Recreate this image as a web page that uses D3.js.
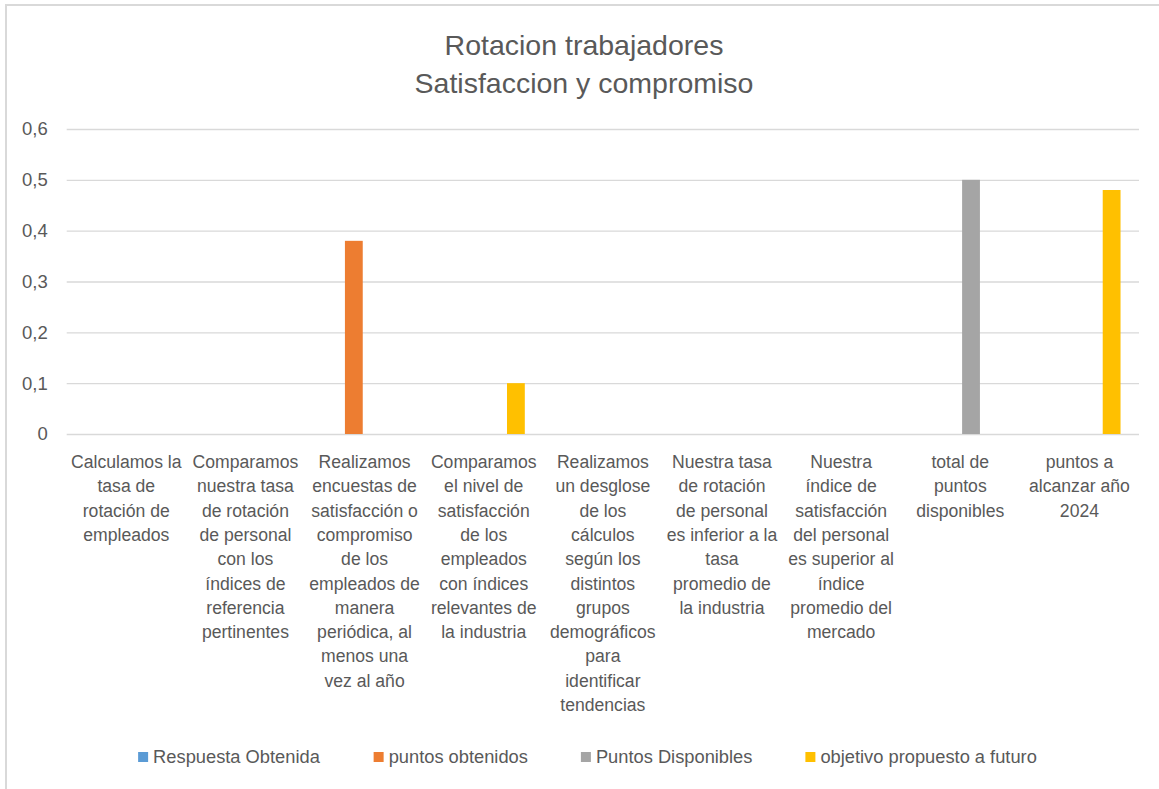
<!DOCTYPE html>
<html>
<head>
<meta charset="utf-8">
<script src="https://cdn.jsdelivr.net/npm/d3@7"></script>
<style>
  body { margin: 0; background: #fff; }
  svg { display: block; font-family: "Liberation Sans", Arial, sans-serif; }
</style>
</head>
<body>
<svg id="chart" width="1159" height="789"></svg>
<script>
// categories, one label line per \n
const categories = [
  "Calculamos la\ntasa de\nrotación de\nempleados",
  "Comparamos\nnuestra tasa\nde rotación\nde personal\ncon los\níndices de\nreferencia\npertinentes",
  "Realizamos\nencuestas de\nsatisfacción o\ncompromiso\nde los\nempleados de\nmanera\nperiódica, al\nmenos una\nvez al año",
  "Comparamos\nel nivel de\nsatisfacción\nde los\nempleados\ncon índices\nrelevantes de\nla industria",
  "Realizamos\nun desglose\nde los\ncálculos\nsegún los\ndistintos\ngrupos\ndemográficos\npara\nidentificar\ntendencias",
  "Nuestra tasa\nde rotación\nde personal\nes inferior a la\ntasa\npromedio de\nla industria",
  "Nuestra\níndice de\nsatisfacción\ndel personal\nes superior al\níndice\npromedio del\nmercado",
  "total de\npuntos\ndisponibles",
  "puntos a\nalcanzar año\n2024"
];

const seriesNames = ["Respuesta Obtenida", "puntos obtenidos", "Puntos Disponibles", "objetivo propuesto a futuro"];
const seriesColors = ["#5B9BD5", "#ED7D31", "#A5A5A5", "#FFC000"];

const respuestaObtenida = [0, 0, 0, 0, 0, 0, 0, 0, 0];
const puntosObtenidos   = [0, 0, 0.38, 0, 0, 0, 0, 0, 0];
const puntosDisponibles = [0, 0, 0, 0, 0, 0, 0, 0.5, 0];
const objetivoFuturo    = [0, 0, 0, 0.1, 0, 0, 0, 0, 0.48];

const yTicks = [0, 0.1, 0.2, 0.3, 0.4, 0.5, 0.6];
const titleLines = ["Rotacion trabajadores", "Satisfaccion y compromiso"];

const allSeries = [respuestaObtenida, puntosObtenidos, puntosDisponibles, objetivoFuturo];
const textColor = "#595959";

const svg = d3.select("#chart");

// chart frame
svg.append("rect")
  .attr("x", 6).attr("y", 5)
  .attr("width", 1170).attr("height", 800)
  .attr("fill", "none")
  .attr("stroke", "#D9D9D9")
  .attr("stroke-width", 2);

const plotLeft = 66.7, plotRight = 1139, plotTop = 129, plotBottom = 434;

const x0 = d3.scaleBand()
  .domain(d3.range(categories.length))
  .range([plotLeft, plotRight])
  .paddingInner(0.31)
  .paddingOuter(0.155);

const x1 = d3.scaleBand()
  .domain(d3.range(seriesNames.length))
  .range([0, x0.bandwidth()])
  .paddingInner(0.17);

const y = d3.scaleLinear().domain([0, 0.6]).range([plotBottom, plotTop]);

// gridlines + y labels
const yAxis = svg.append("g")
  .attr("transform", `translate(${plotLeft},0)`)
  .call(d3.axisLeft(y)
    .tickValues(yTicks)
    .tickSize(-(plotRight - plotLeft))
    .tickPadding(19)
    .tickFormat(d => d === 0 ? "0" : d3.format(".1f")(d).replace(".", ",")));
yAxis.select(".domain").remove();
yAxis.selectAll(".tick line").attr("stroke", "#D9D9D9").attr("stroke-width", 1.3);
yAxis.selectAll(".tick text")
  .attr("fill", textColor)
  .attr("font-size", 18.5)
  .attr("font-family", "Liberation Sans, Arial, sans-serif");

// bars
const groups = svg.append("g").selectAll("g")
  .data(categories.map((c, i) => i))
  .join("g")
  .attr("transform", i => `translate(${x0(i)},0)`);

groups.selectAll("rect")
  .data(i => allSeries.map((s, k) => ({k, v: s[i]})))
  .join("rect")
  .attr("x", d => x1(d.k))
  .attr("width", x1.bandwidth())
  .attr("y", d => y(d.v))
  .attr("height", d => y(0) - y(d.v))
  .attr("fill", d => seriesColors[d.k]);

// x axis labels (multi-line)
const xAxis = svg.append("g")
  .attr("transform", `translate(0,${plotBottom})`)
  .call(d3.axisBottom(x0).tickSize(0).tickFormat(""));
xAxis.select(".domain").remove();
xAxis.selectAll(".tick").each(function(i) {
  const t = d3.select(this).append("text")
    .attr("fill", textColor)
    .attr("font-size", 17.6)
    .attr("text-anchor", "middle");
  categories[i].split("\n").forEach((line, j) => {
    t.append("tspan").attr("x", 0).attr("y", 34 + j * 24.3).text(line);
  });
});

// title
svg.append("text")
  .attr("text-anchor", "middle")
  .attr("fill", textColor)
  .attr("font-size", 28.5)
  .selectAll("tspan")
  .data(titleLines)
  .join("tspan")
  .attr("x", 584)
  .attr("y", (d, i) => 55 + i * 38)
  .text(d => d);

// legend
const legendGap = 53;
const legend = svg.append("g");
const items = legend.selectAll("g")
  .data(seriesNames)
  .join("g");
items.append("rect")
  .attr("width", 10).attr("height", 10)
  .attr("y", -5)
  .attr("fill", (d, i) => seriesColors[i]);
items.append("text")
  .attr("x", 15)
  .attr("dy", "0.35em")
  .attr("font-size", 18.3)
  .attr("fill", textColor)
  .text(d => d);
let cx = 0;
items.each(function() {
  const w = this.getBBox().width;
  d3.select(this).attr("transform", `translate(${cx},0)`);
  cx += w + legendGap;
});
const legendWidth = cx - legendGap;
legend.attr("transform", `translate(${587.5 - legendWidth / 2},757)`);
</script>
</body>
</html>
